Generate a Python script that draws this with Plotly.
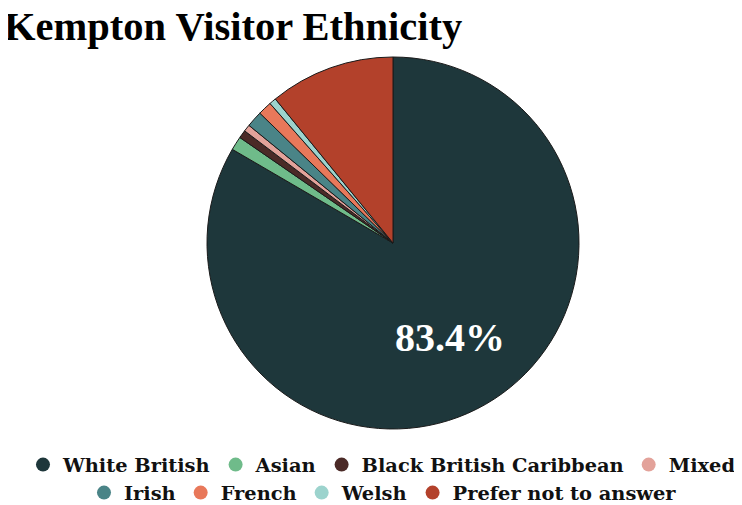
import plotly.graph_objects as go

categories = ["White British", "Asian", "Black British Caribbean", "Mixed",
              "Irish", "French", "Welsh", "Prefer not to answer"]
values = [83.4, 1.2, 0.7, 0.6, 1.4, 1.2, 0.6, 10.9]
colors = ["#1e373b", "#6fbb8a", "#4b2a27", "#e3a29a",
          "#4a8487", "#e8785a", "#9cd3cd", "#b3412b"]
title_text = "Kempton Visitor Ethnicity"

W, H = 742, 505
T, B = 49, 84            # plot area top / bottom margins
PH = H - T - B           # 372
CX, R = 385, 186         # pie centre x and radius (px)

fig = go.Figure()
fig.add_trace(go.Pie(
    labels=categories, values=values,
    textinfo="none", sort=False, direction="clockwise", rotation=0,
    domain=dict(x=[(CX - R) / W, (CX + R) / W], y=[0, 1]),
    marker=dict(colors=colors, line=dict(color="#1a1a1a", width=1)),
    showlegend=False, hoverinfo="label+percent",
))

for i, (name, col) in enumerate(zip(categories, colors)):
    fig.add_trace(go.Scatter(
        x=[None], y=[None], mode="markers", name=name,
        marker=dict(color=col, size=14, symbol="circle"),
        legend="legend" if i < 4 else "legend2", showlegend=True,
    ))

# percentage label of the largest slice
fig.add_annotation(
    text=f"{values[0]:.1f}%", xref="paper", yref="paper",
    x=442 / W, y=1 - (329 - T) / PH, xanchor="center", yanchor="middle",
    showarrow=False,
    font=dict(family="Liberation Serif", size=40, color="white", weight="bold"),
)
# title
fig.add_annotation(
    text=f"<b>{title_text}</b>", xref="paper", yref="paper",
    x=-5 / W, y=1 + (T - 18) / PH, xanchor="left", yanchor="middle",
    borderpad=0,
    showarrow=False,
    font=dict(family="Liberation Serif", size=40.5, color="#000000"),
)

legend_font = dict(family="DejaVu Serif", size=19.4, color="#111111", weight="bold")
fig.update_layout(
    width=W, height=H,
    margin=dict(l=0, r=0, t=T, b=B, autoexpand=False),
    paper_bgcolor="white", plot_bgcolor="white",
    xaxis=dict(visible=False), yaxis=dict(visible=False),
    legend=dict(orientation="h", x=374 / W, xanchor="center",
                y=(421 - 457) / PH, yanchor="middle",
                font=legend_font, itemclick=False, bgcolor="rgba(0,0,0,0)"),
    legend2=dict(orientation="h", x=375 / W, xanchor="center",
                 y=(421 - 485) / PH, yanchor="middle",
                 font=legend_font, itemclick=False, bgcolor="rgba(0,0,0,0)"),
)

fig.write_html("out.html")
